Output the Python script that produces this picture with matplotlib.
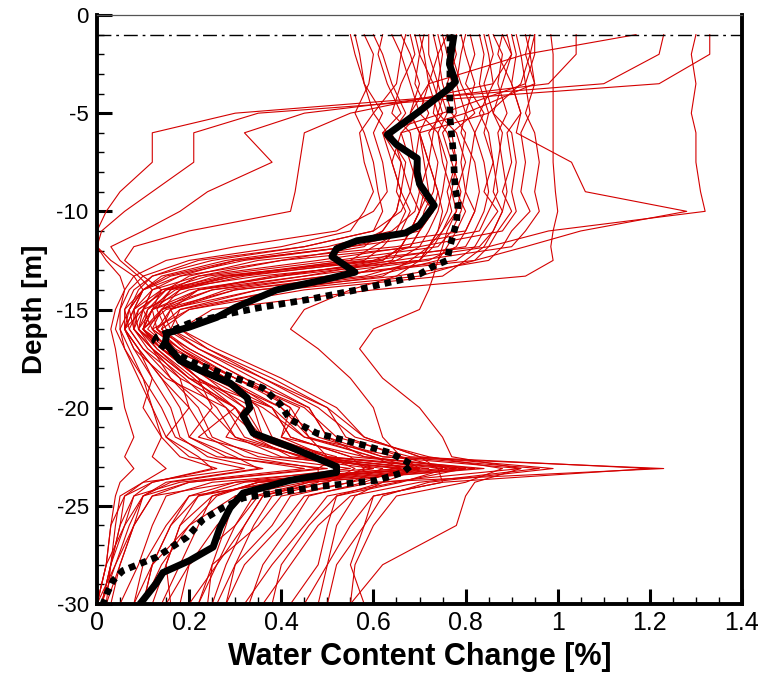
import matplotlib
matplotlib.use("Agg")
import matplotlib.pyplot as plt
from matplotlib.ticker import MultipleLocator

# ---------------- data ----------------
# depth knots shared by all ensemble realisations (m)
depth_knots = [-1, -2, -3.5, -5, -6, -7.5, -9, -10, -11, -11.8, -12.5, -13.3, -14,
               -15, -16, -17, -18.5, -20, -21.5, -22.5, -23.1, -23.8, -24.5, -26, -28, -30]

# realisations that cross from high values to the left near 4-5 m
runs_left = [
    [1.23, 1.22, 1.10, 0.30, 0.12, 0.12, 0.05, 0.02, 0.00, 0.00, 0.02, 0.05, 0.06, 0.04, 0.03, 0.04, 0.05, 0.06, 0.08, 0.06, 0.08, 0.05, 0.04, 0.03, 0.02, 0.00],
    [1.33, 1.33, 1.22, 0.35, 0.21, 0.21, 0.12, 0.06, 0.01, 0.00, 0.03, 0.08, 0.10, 0.08, 0.06, 0.09, 0.12, 0.10, 0.14, 0.12, 0.15, 0.10, 0.06, 0.05, 0.03, 0.01],
    [1.04, 1.04, 0.98, 0.45, 0.32, 0.38, 0.24, 0.18, 0.10, 0.03, 0.05, 0.09, 0.12, 0.10, 0.08, 0.12, 0.18, 0.20, 0.15, 0.22, 0.25, 0.12, 0.08, 0.06, 0.02, 0.00],
    [0.88, 0.90, 0.86, 0.55, 0.45, 0.44, 0.43, 0.42, 0.20, 0.08, 0.06, 0.10, 0.14, 0.12, 0.09, 0.14, 0.22, 0.25, 0.20, 0.30, 0.35, 0.15, 0.10, 0.08, 0.04, 0.01],
]

# realisations with high values near the surface
runs_high = [
    [1.30, 1.29, 1.30, 1.29, 1.30, 1.30, 1.31, 1.32, 0.98, 0.85, 0.65, 0.38, 0.22, 0.14, 0.12, 0.18, 0.30, 0.42, 0.46, 0.50, 0.56, 0.50, 0.38, 0.34, 0.30, 0.28],
    [0.93, 0.94, 0.92, 0.85, 0.70, 0.72, 0.74, 0.73, 0.70, 0.68, 0.60, 0.32, 0.18, 0.12, 0.10, 0.14, 0.22, 0.32, 0.36, 0.46, 0.70, 0.35, 0.26, 0.20, 0.14, 0.10],
    [0.95, 0.95, 0.93, 0.75, 0.62, 0.66, 0.68, 0.66, 0.60, 0.45, 0.22, 0.12, 0.09, 0.07, 0.06, 0.09, 0.14, 0.20, 0.24, 0.32, 0.48, 0.20, 0.12, 0.08, 0.05, 0.03],
    [0.94, 0.93, 0.95, 0.80, 0.66, 0.64, 0.66, 0.65, 0.62, 0.55, 0.30, 0.15, 0.10, 0.08, 0.08, 0.12, 0.20, 0.30, 0.34, 0.46, 0.70, 0.32, 0.22, 0.18, 0.15, 0.12],
    [0.985, 0.99, 0.99, 0.99, 0.99, 0.99, 0.995, 1.00, 0.99, 0.985, 0.99, 0.93, 0.60, 0.25, 0.18, 0.24, 0.38, 0.50, 0.58, 0.70, 0.99, 0.72, 0.62, 0.58, 0.52, 0.50],
    [0.90, 0.91, 0.90, 0.92, 0.91, 1.03, 1.06, 1.28, 1.05, 0.93, 0.82, 0.50, 0.28, 0.16, 0.13, 0.18, 0.28, 0.38, 0.42, 0.55, 0.84, 0.46, 0.36, 0.32, 0.26, 0.20],
    [1.17, 0.93, 0.72, 0.68, 0.70, 0.69, 0.71, 0.70, 0.68, 0.66, 0.62, 0.30, 0.17, 0.11, 0.09, 0.13, 0.21, 0.28, 0.32, 0.44, 0.66, 0.30, 0.20, 0.16, 0.12, 0.08],
]

# bulk of the ensemble
runs_main = [
    [0.56, 0.57, 0.58, 0.62, 0.60, 0.62, 0.63, 0.60, 0.52, 0.30, 0.15, 0.08, 0.06, 0.05, 0.05, 0.07, 0.10, 0.12, 0.15, 0.20, 0.32, 0.10, 0.05, 0.04, 0.03, 0.01],
    [0.58, 0.60, 0.59, 0.56, 0.58, 0.60, 0.61, 0.62, 0.60, 0.45, 0.25, 0.12, 0.08, 0.06, 0.06, 0.09, 0.14, 0.18, 0.20, 0.28, 0.45, 0.18, 0.08, 0.05, 0.03, 0.02],
    [0.62, 0.61, 0.63, 0.66, 0.62, 0.64, 0.66, 0.65, 0.62, 0.58, 0.40, 0.18, 0.10, 0.07, 0.08, 0.12, 0.16, 0.22, 0.25, 0.35, 0.55, 0.30, 0.12, 0.08, 0.05, 0.02],
    [0.64, 0.66, 0.65, 0.60, 0.63, 0.67, 0.66, 0.68, 0.66, 0.60, 0.55, 0.30, 0.15, 0.09, 0.08, 0.11, 0.19, 0.26, 0.30, 0.40, 0.60, 0.25, 0.15, 0.12, 0.09, 0.05],
    [0.67, 0.66, 0.68, 0.70, 0.66, 0.68, 0.70, 0.69, 0.64, 0.50, 0.28, 0.14, 0.10, 0.06, 0.07, 0.10, 0.18, 0.30, 0.22, 0.38, 0.68, 0.40, 0.20, 0.15, 0.10, 0.08],
    [0.69, 0.70, 0.69, 0.72, 0.70, 0.71, 0.72, 0.70, 0.68, 0.66, 0.62, 0.40, 0.20, 0.10, 0.06, 0.08, 0.15, 0.28, 0.35, 0.50, 0.60, 0.45, 0.30, 0.20, 0.12, 0.10],
    [0.71, 0.70, 0.73, 0.75, 0.72, 0.74, 0.73, 0.71, 0.70, 0.68, 0.48, 0.22, 0.12, 0.08, 0.09, 0.14, 0.24, 0.32, 0.28, 0.45, 0.72, 0.35, 0.25, 0.18, 0.15, 0.16],
    [0.73, 0.74, 0.72, 0.70, 0.74, 0.76, 0.75, 0.74, 0.72, 0.70, 0.65, 0.55, 0.30, 0.14, 0.10, 0.13, 0.20, 0.38, 0.42, 0.55, 0.58, 0.50, 0.35, 0.30, 0.20, 0.18],
    [0.75, 0.76, 0.77, 0.78, 0.75, 0.77, 0.79, 0.78, 0.75, 0.72, 0.70, 0.35, 0.15, 0.09, 0.07, 0.10, 0.16, 0.24, 0.30, 0.45, 0.62, 0.55, 0.40, 0.35, 0.25, 0.22],
    [0.77, 0.78, 0.76, 0.74, 0.78, 0.80, 0.78, 0.80, 0.78, 0.76, 0.74, 0.60, 0.35, 0.15, 0.10, 0.14, 0.26, 0.40, 0.48, 0.62, 1.23, 0.60, 0.45, 0.40, 0.32, 0.28],
    [0.79, 0.80, 0.82, 0.80, 0.79, 0.82, 0.83, 0.82, 0.80, 0.55, 0.30, 0.18, 0.12, 0.10, 0.12, 0.18, 0.28, 0.35, 0.38, 0.50, 0.80, 0.42, 0.30, 0.28, 0.25, 0.24],
    [0.81, 0.82, 0.80, 0.84, 0.82, 0.84, 0.85, 0.84, 0.82, 0.80, 0.60, 0.26, 0.16, 0.12, 0.13, 0.20, 0.32, 0.42, 0.40, 0.58, 0.80, 0.65, 0.50, 0.45, 0.38, 0.32],
    [0.84, 0.85, 0.86, 0.83, 0.85, 0.86, 0.84, 0.87, 0.84, 0.82, 0.78, 0.50, 0.25, 0.14, 0.11, 0.16, 0.24, 0.36, 0.45, 0.65, 0.96, 0.70, 0.55, 0.48, 0.42, 0.36],
    [0.86, 0.88, 0.87, 0.89, 0.87, 0.88, 0.89, 0.88, 0.86, 0.84, 0.80, 0.75, 0.45, 0.20, 0.14, 0.19, 0.30, 0.45, 0.52, 0.68, 1.20, 0.75, 0.60, 0.55, 0.50, 0.45],
    [0.89, 0.90, 0.88, 0.86, 0.90, 0.91, 0.90, 0.91, 0.88, 0.70, 0.40, 0.22, 0.16, 0.13, 0.15, 0.22, 0.34, 0.46, 0.50, 0.62, 0.92, 0.62, 0.52, 0.50, 0.48, 0.42],
    [0.91, 0.92, 0.93, 0.94, 0.92, 0.93, 0.92, 0.94, 0.90, 0.88, 0.85, 0.65, 0.35, 0.18, 0.16, 0.24, 0.36, 0.48, 0.56, 0.72, 0.88, 0.80, 0.65, 0.60, 0.56, 0.55],
    [0.95, 0.94, 0.95, 0.93, 0.95, 0.96, 0.95, 0.96, 0.93, 0.90, 0.70, 0.40, 0.22, 0.16, 0.18, 0.26, 0.40, 0.52, 0.58, 0.70, 0.74, 0.75, 0.60, 0.58, 0.55, 0.58],
    [0.60, 0.62, 0.64, 0.67, 0.64, 0.66, 0.65, 0.67, 0.65, 0.62, 0.58, 0.28, 0.14, 0.08, 0.06, 0.08, 0.12, 0.16, 0.18, 0.24, 0.36, 0.16, 0.10, 0.07, 0.04, 0.00],
    [0.66, 0.68, 0.70, 0.68, 0.70, 0.72, 0.70, 0.73, 0.70, 0.55, 0.32, 0.16, 0.10, 0.07, 0.05, 0.06, 0.10, 0.14, 0.17, 0.26, 0.50, 0.20, 0.10, 0.06, 0.03, 0.01],
    [0.72, 0.72, 0.74, 0.76, 0.74, 0.75, 0.77, 0.76, 0.74, 0.72, 0.68, 0.62, 0.40, 0.20, 0.12, 0.15, 0.22, 0.34, 0.36, 0.48, 0.78, 0.40, 0.32, 0.26, 0.20, 0.15],
    [0.76, 0.74, 0.75, 0.77, 0.80, 0.79, 0.80, 0.79, 0.77, 0.74, 0.52, 0.24, 0.14, 0.10, 0.09, 0.12, 0.20, 0.30, 0.34, 0.42, 0.65, 0.35, 0.25, 0.22, 0.18, 0.14],
    [0.80, 0.79, 0.78, 0.80, 0.82, 0.81, 0.80, 0.82, 0.80, 0.78, 0.72, 0.45, 0.22, 0.12, 0.10, 0.15, 0.25, 0.38, 0.45, 0.60, 0.70, 0.55, 0.42, 0.38, 0.30, 0.26],
    [0.83, 0.84, 0.83, 0.85, 0.84, 0.86, 0.87, 0.85, 0.83, 0.65, 0.35, 0.20, 0.15, 0.11, 0.10, 0.14, 0.22, 0.30, 0.36, 0.52, 0.48, 0.48, 0.36, 0.32, 0.28, 0.25],
    [0.88, 0.87, 0.90, 0.92, 0.89, 0.90, 0.88, 0.90, 0.87, 0.85, 0.82, 0.70, 0.40, 0.18, 0.13, 0.17, 0.28, 0.40, 0.46, 0.60, 0.66, 0.58, 0.46, 0.42, 0.36, 0.33],
    [0.55, 0.56, 0.58, 0.60, 0.57, 0.58, 0.60, 0.58, 0.55, 0.40, 0.20, 0.10, 0.07, 0.05, 0.04, 0.06, 0.09, 0.12, 0.14, 0.18, 0.26, 0.12, 0.06, 0.03, 0.02, 0.00],
    [0.68, 0.69, 0.66, 0.64, 0.68, 0.69, 0.68, 0.70, 0.68, 0.66, 0.64, 0.45, 0.25, 0.12, 0.10, 0.16, 0.30, 0.44, 0.40, 0.50, 0.75, 0.38, 0.22, 0.16, 0.12, 0.10],
    [0.78, 0.77, 0.79, 0.82, 0.77, 0.78, 0.76, 0.77, 0.75, 0.73, 0.70, 0.58, 0.30, 0.16, 0.14, 0.20, 0.32, 0.46, 0.50, 0.58, 0.82, 0.46, 0.34, 0.30, 0.26, 0.22],
    [0.85, 0.86, 0.84, 0.86, 0.88, 0.87, 0.86, 0.88, 0.86, 0.83, 0.55, 0.28, 0.18, 0.14, 0.16, 0.22, 0.36, 0.50, 0.54, 0.66, 0.76, 0.66, 0.52, 0.46, 0.40, 0.38],
]

# realisations staying wet in the middle zone
runs_mid = [
    [0.74, 0.75, 0.74, 0.73, 0.76, 0.78, 0.77, 0.78, 0.76, 0.75, 0.74, 0.73, 0.72, 0.70, 0.60, 0.57, 0.62, 0.70, 0.75, 0.77, 0.92, 0.82, 0.80, 0.78, 0.62, 0.55],
    [0.70, 0.71, 0.72, 0.74, 0.73, 0.72, 0.74, 0.75, 0.74, 0.72, 0.70, 0.65, 0.55, 0.45, 0.42, 0.48, 0.55, 0.60, 0.62, 0.66, 0.70, 0.62, 0.56, 0.52, 0.50, 0.48],
]

# ensemble mean (thick solid)
mean_depth = [-1, -2.5, -3.4, -3.7, -4.9, -6.1, -6.6, -7.3, -8.0, -8.6, -9.7, -10.7, -11.1,
              -11.5, -11.9, -12.3, -13.1, -13.5, -14.0, -14.9, -15.4, -15.9, -16.2, -16.7,
              -17.6, -18.1, -18.75, -19.5, -20.0, -20.4, -21.3, -22.0, -23.0, -23.3, -23.7,
              -24.35, -25.1, -26.1, -27.1, -27.8, -28.4, -28.9, -29.8, -30]
mean_wc = [0.775, 0.765, 0.778, 0.766, 0.70, 0.63, 0.65, 0.695, 0.695, 0.70, 0.732, 0.70, 0.67,
           0.564, 0.52, 0.51, 0.56, 0.49, 0.39, 0.30, 0.26, 0.20, 0.152, 0.148,
           0.18, 0.224, 0.289, 0.326, 0.332, 0.317, 0.339, 0.419, 0.52, 0.52, 0.419,
           0.317, 0.289, 0.267, 0.252, 0.20, 0.143, 0.13, 0.10, 0.093]

# reference profile (thick dotted)
true_depth = [-1, -5.2, -6.9, -8.75, -9.6, -10.6, -11.8, -12.5, -12.8, -13.2, -13.5, -14.0,
              -14.5, -14.9, -15.2, -15.7, -16.4, -16.6, -17.1, -17.7, -18.4, -19.0, -19.8,
              -20.6, -21.3, -21.9, -22.3, -22.9, -23.3, -23.7, -24.0, -24.35, -24.6, -25.1,
              -25.7, -26.6, -27.6, -28.3, -28.8, -29.45, -30]
true_wc = [0.766, 0.766, 0.773, 0.777, 0.784, 0.78, 0.766, 0.76, 0.73, 0.70, 0.658, 0.564,
           0.456, 0.354, 0.289, 0.20, 0.13, 0.125, 0.158, 0.209, 0.289, 0.36, 0.397,
           0.419, 0.477, 0.577, 0.636, 0.684, 0.664, 0.608, 0.49, 0.382, 0.317, 0.273,
           0.23, 0.195, 0.13, 0.056, 0.035, 0.022, 0.013]

surface_level = -1.0

x_ticks = [0, 0.2, 0.4, 0.6, 0.8, 1, 1.2, 1.4]
x_tick_labels = ["0", "0.2", "0.4", "0.6", "0.8", "1", "1.2", "1.4"]
y_ticks = [0, -5, -10, -15, -20, -25, -30]
y_tick_labels = ["0", "-5", "-10", "-15", "-20", "-25", "-30"]

# ---------------- plot ----------------
fig = plt.figure(figsize=(7.62, 6.75), dpi=100)
ax = fig.add_axes([97 / 762, 1 - 604 / 675, 645 / 762, 589 / 675])

red = "#d40000"
for group in (runs_left, runs_high, runs_main, runs_mid):
    for run in group:
        ax.plot(run, depth_knots, color=red, lw=0.8, zorder=2)

ax.axhline(surface_level, color="black", lw=1.0, linestyle=(0, (10, 3.5, 2, 3.5)), zorder=3)
ax.plot(mean_wc, mean_depth, color="black", lw=5.0, solid_joinstyle="round",
        solid_capstyle="butt", zorder=4)
ax.plot(true_wc, true_depth, color="black", lw=4.8, linestyle=(0, (1, 0.8)),
        dash_capstyle="butt", zorder=5)

ax.set_xlim(0, 1.4)
ax.set_ylim(-30, 0)

sans = ["Liberation Sans", "DejaVu Sans"]
ax.set_xticks(x_ticks)
ax.set_xticklabels(x_tick_labels, family=sans, fontsize=18)
ax.set_yticks(y_ticks)
ax.set_yticklabels(y_tick_labels, family=sans, fontsize=16)
ax.xaxis.set_minor_locator(MultipleLocator(0.05))
ax.yaxis.set_minor_locator(MultipleLocator(1))

ax.tick_params(which="major", direction="in", length=11, width=2.2, top=False, right=False)
ax.tick_params(which="minor", direction="in", length=5, width=1.0, top=False, right=False)
ax.tick_params(axis="x", which="major", pad=5)
ax.tick_params(axis="y", which="major", pad=6)

for side in ("left", "bottom", "right"):
    ax.spines[side].set_linewidth(2.8)
    ax.spines[side].set_color("black")
ax.spines["top"].set_linewidth(0.9)
ax.spines["top"].set_color("#555555")

ax.set_xlabel("Water Content Change [%]", family=sans, fontsize=22, fontweight="bold",
              labelpad=5)
ax.set_ylabel("Depth [m]", family=sans, fontsize=20, fontweight="bold", labelpad=6)

fig.savefig("out.png", dpi=100)
